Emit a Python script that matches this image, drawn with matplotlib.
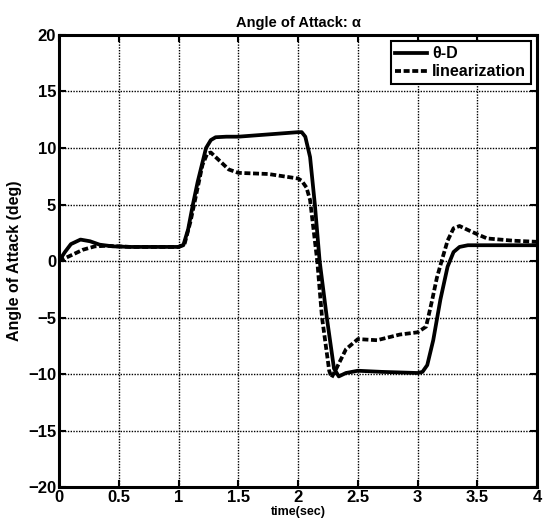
import numpy as np
import matplotlib
matplotlib.use("Agg")
import matplotlib.pyplot as plt

plt.rcParams['font.family'] = ['Liberation Sans', 'DejaVu Sans']
plt.rcParams['font.weight'] = 'bold'

# theta-D response
t_thd = [0, 0.05, 0.1, 0.18, 0.26, 0.34, 0.45, 0.6, 1.0, 1.04, 1.08, 1.12, 1.16, 1.23, 1.27,
         1.31, 1.4, 1.5, 1.75, 2.0, 2.03, 2.06, 2.1, 2.14, 2.18, 2.24, 2.3, 2.34, 2.4, 2.5,
         2.7, 3.0, 3.04, 3.08, 3.13, 3.19, 3.25, 3.3, 3.35, 3.42, 3.5, 4.0]
a_thd = [0, 0.8, 1.5, 1.9, 1.75, 1.45, 1.3, 1.25, 1.25, 1.4, 2.8, 5.0, 7.0, 10.0, 10.7,
         10.95, 11.0, 11.0, 11.2, 11.4, 11.4, 11.0, 9.2, 5.0, 0.0, -5.0, -9.5, -10.2, -9.9,
         -9.7, -9.8, -9.9, -9.8, -9.2, -7.0, -3.4, -0.5, 0.8, 1.25, 1.4, 1.4, 1.4]

# linearization response
t_lin = [0, 0.1, 0.2, 0.3, 0.4, 0.6, 1.0, 1.05, 1.1, 1.15, 1.2, 1.24, 1.27, 1.3, 1.35,
         1.42, 1.5, 1.75, 2.0, 2.03, 2.07, 2.1, 2.16, 2.2, 2.26, 2.28, 2.32, 2.4, 2.5,
         2.66, 2.85, 3.0, 3.07, 3.12, 3.16, 3.2, 3.25, 3.3, 3.35, 3.45, 3.58, 3.8, 4.0]
a_lin = [0, 0.5, 1.0, 1.3, 1.35, 1.25, 1.25, 1.5, 3.5, 6.0, 8.5, 9.5, 9.6, 9.3, 8.8,
         8.1, 7.8, 7.7, 7.3, 7.1, 6.5, 5.4, 0.0, -5.0, -9.7, -10.3, -9.5, -7.8, -6.9,
         -7.0, -6.5, -6.3, -5.8, -3.5, -1.5, 0.0, 1.8, 2.9, 3.1, 2.6, 2.0, 1.8, 1.7]

xticks = [0, 0.5, 1, 1.5, 2, 2.5, 3, 3.5, 4]
xticklabels = ['0', '0.5', '1', '1.5', '2', '2.5', '3', '3.5', '4']
yticks = [-20, -15, -10, -5, 0, 5, 10, 15, 20]

fig = plt.figure(figsize=(5.46, 5.29), dpi=100)
ax = fig.add_axes([0.108, 0.079, 0.876, 0.855])

ax.plot(t_thd, a_thd, color='black', lw=2.7, label='\u03b8-D', solid_joinstyle='round')
ax.plot(t_lin, a_lin, color='black', lw=2.7, dashes=(1.6, 0.7), label='linearization')

ax.set_xlim(0, 4)
ax.set_ylim(-20, 20)
ax.set_xticks(xticks)
ax.set_xticklabels(xticklabels)
ax.set_yticks(yticks)
ax.tick_params(direction='in', top=True, right=True, length=5, width=1.5, labelsize=12, pad=2)
for lab in ax.get_xticklabels() + ax.get_yticklabels():
    lab.set_fontweight('bold')
ax.grid(True, color='black', linestyle=(0, (1, 1)), linewidth=1.0)
for sp in ax.spines.values():
    sp.set_linewidth(2.2)

ax.set_title('Angle of Attack: \u03b1', fontsize=10.5, fontweight='bold', pad=6)
ax.set_xlabel('time(sec)', fontsize=9, fontweight='bold', labelpad=1)
ax.set_ylabel('Angle of Attack (deg)', fontsize=11.5, fontweight='bold', labelpad=4)

leg = ax.legend(loc='upper right', fontsize=11.5, handlelength=2.0, handletextpad=0.3,
                borderpad=0.3, labelspacing=0.2, fancybox=False, framealpha=1,
                edgecolor='black', borderaxespad=0.4)
leg.get_frame().set_linewidth(1.5)
for txt in leg.get_texts():
    txt.set_fontweight('bold')

fig.savefig('out.png', dpi=100)
